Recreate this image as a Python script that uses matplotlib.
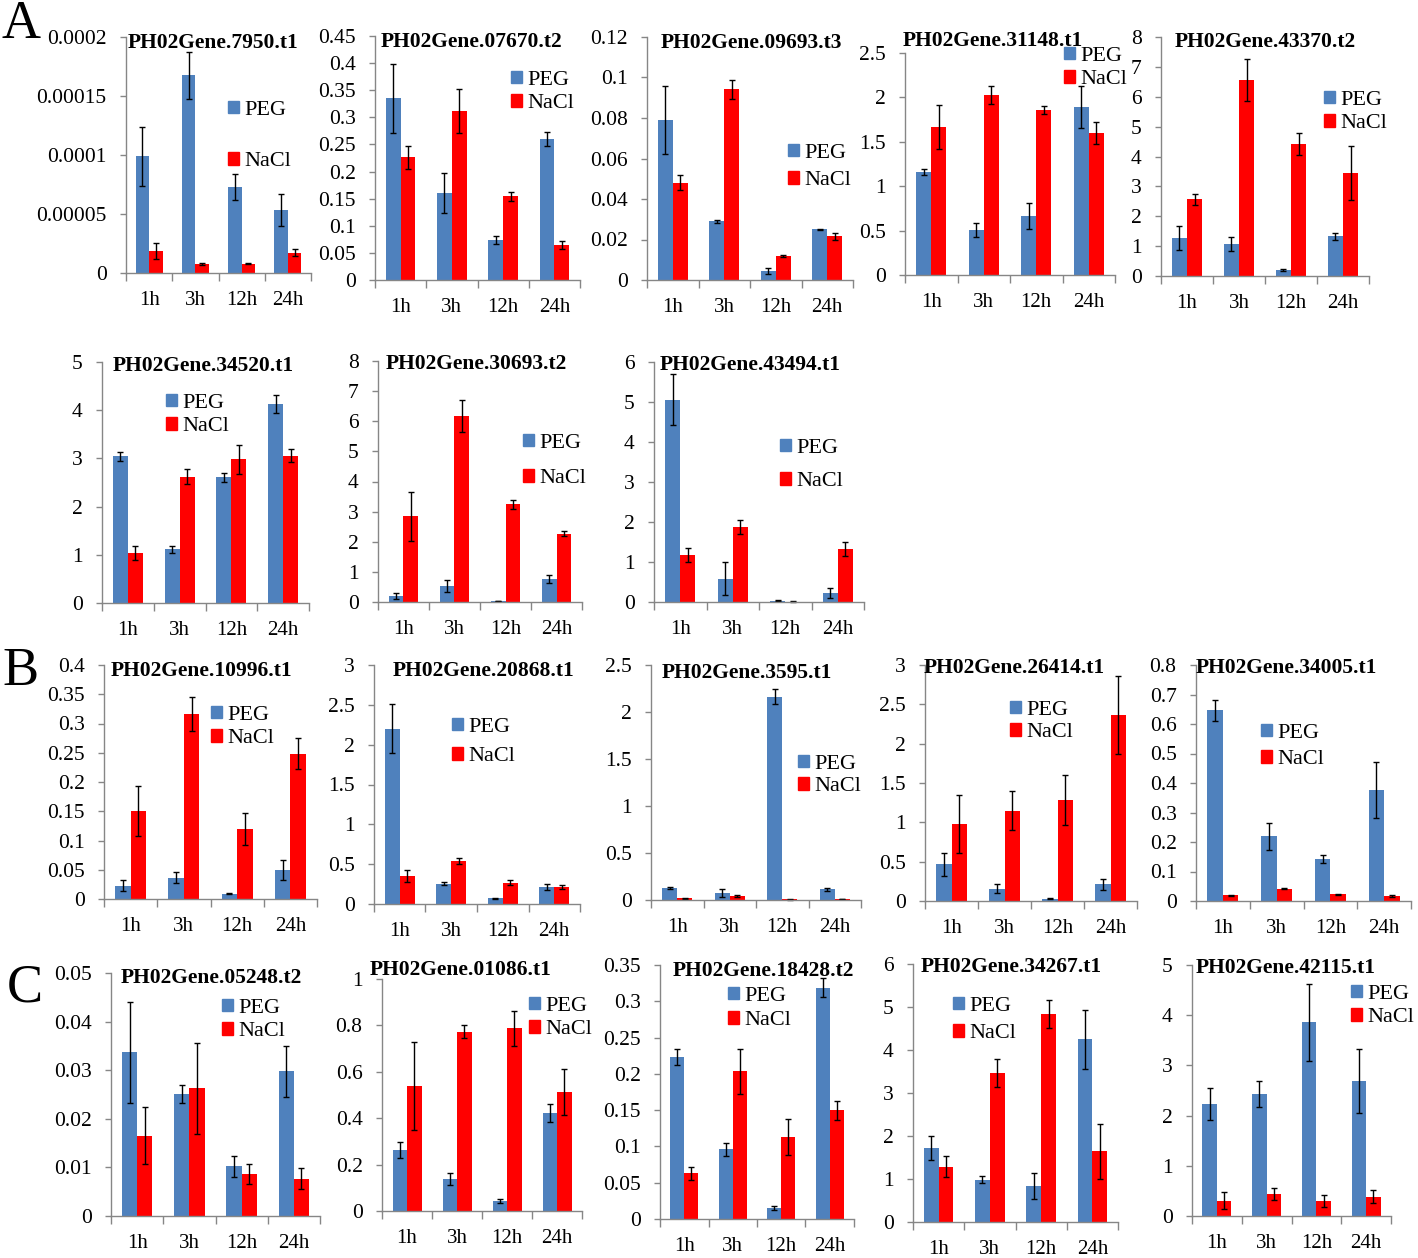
import numpy as np
import matplotlib
matplotlib.use('Agg')
import matplotlib.pyplot as plt
from matplotlib.patches import Patch
from matplotlib.ticker import FixedLocator, FuncFormatter

plt.rcParams['font.family'] = ['Liberation Serif', 'DejaVu Serif']

# ---------------- data ----------------
times = ['1h', '3h', '12h', '24h']

genes = ['PH02Gene.7950.t1', 'PH02Gene.07670.t2', 'PH02Gene.09693.t3', 'PH02Gene.31148.t1',
         'PH02Gene.43370.t2', 'PH02Gene.34520.t1', 'PH02Gene.30693.t2', 'PH02Gene.43494.t1',
         'PH02Gene.10996.t1', 'PH02Gene.20868.t1', 'PH02Gene.3595.t1', 'PH02Gene.26414.t1',
         'PH02Gene.34005.t1', 'PH02Gene.05248.t2', 'PH02Gene.01086.t1', 'PH02Gene.18428.t2',
         'PH02Gene.34267.t1', 'PH02Gene.42115.t1']

peg = [
    [9.9e-5, 1.676e-4, 7.3e-5, 5.35e-5],
    [0.335, 0.160, 0.074, 0.260],
    [0.0789, 0.0289, 0.0046, 0.0250],
    [1.16, 0.505, 0.663, 1.89],
    [1.27, 1.06, 0.20, 1.33],
    [3.04, 1.11, 2.61, 4.13],
    [0.21, 0.52, 0.03, 0.75],
    [5.06, 0.58, 0.035, 0.225],
    [0.0228, 0.0364, 0.0091, 0.049],
    [2.20, 0.255, 0.071, 0.213],
    [0.131, 0.0745, 2.16, 0.113],
    [0.466, 0.157, 0.030, 0.212],
    [0.647, 0.220, 0.142, 0.377],
    [0.03365, 0.02514, 0.01023, 0.02974],
    [0.263, 0.138, 0.0446, 0.423],
    [0.223, 0.0961, 0.0152, 0.3188],
    [1.72, 0.986, 0.838, 4.25],
    [2.23, 2.43, 3.86, 2.69],
]
peg_err = [
    [2.5e-5, 2.0e-5, 1.1e-5, 1.35e-5],
    [0.063, 0.037, 0.008, 0.013],
    [0.0168, 0.0008, 0.0015, 0.0004],
    [0.03, 0.075, 0.15, 0.24],
    [0.40, 0.23, 0.02, 0.11],
    [0.10, 0.07, 0.09, 0.19],
    [0.10, 0.20, 0.005, 0.13],
    [0.63, 0.41, 0.01, 0.12],
    [0.009, 0.009, 0.001, 0.017],
    [0.31, 0.015, 0.005, 0.04],
    [0.01, 0.038, 0.08, 0.015],
    [0.15, 0.06, 0.005, 0.07],
    [0.036, 0.046, 0.014, 0.094],
    [0.0104, 0.0018, 0.0022, 0.0052],
    [0.036, 0.026, 0.008, 0.040],
    [0.0107, 0.009, 0.003, 0.013],
    [0.28, 0.09, 0.30, 0.69],
    [0.31, 0.25, 0.77, 0.63],
]
nacl = [
    [1.86e-5, 7.6e-6, 7.9e-6, 1.72e-5],
    [0.226, 0.312, 0.154, 0.065],
    [0.0480, 0.0942, 0.0117, 0.0215],
    [1.67, 2.026, 1.86, 1.60],
    [2.57, 6.55, 4.42, 3.45],
    [1.04, 2.62, 2.98, 3.06],
    [2.84, 6.18, 3.24, 2.27],
    [1.18, 1.875, 0.01, 1.33],
    [0.151, 0.317, 0.1195, 0.2487],
    [0.351, 0.539, 0.267, 0.213],
    [0.018, 0.043, 0.008, 0.010],
    [0.979, 1.148, 1.28, 2.364],
    [0.019, 0.042, 0.0226, 0.017],
    [0.01655, 0.02624, 0.00859, 0.0077],
    [0.538, 0.773, 0.788, 0.512],
    [0.063, 0.2033, 0.1132, 0.150],
    [1.29, 3.47, 4.84, 1.64],
    [0.30, 0.44, 0.30, 0.386],
]
nacl_err = [
    [0.7e-5, 0.5e-6, 0.5e-6, 0.3e-5],
    [0.021, 0.040, 0.008, 0.007],
    [0.0038, 0.0048, 0.0004, 0.0015],
    [0.25, 0.105, 0.045, 0.125],
    [0.19, 0.70, 0.36, 0.90],
    [0.14, 0.15, 0.30, 0.14],
    [0.82, 0.53, 0.16, 0.09],
    [0.18, 0.18, 0.005, 0.18],
    [0.043, 0.029, 0.027, 0.026],
    [0.075, 0.038, 0.030, 0.030],
    [0.005, 0.015, 0.003, 0.004],
    [0.37, 0.25, 0.32, 0.49],
    [0.002, 0.003, 0.002, 0.002],
    [0.0058, 0.0094, 0.0021, 0.0021],
    [0.19, 0.029, 0.075, 0.098],
    [0.0092, 0.031, 0.025, 0.013],
    [0.24, 0.33, 0.33, 0.64],
    [0.17, 0.12, 0.12, 0.13],
]
ymax = [0.0002, 0.45, 0.12, 2.5, 8, 5, 8, 6, 0.4, 3, 2.5, 3, 0.8, 0.05, 1, 0.35, 6, 5]
ystep = [0.00005, 0.05, 0.02, 0.5, 1, 1, 1, 1, 0.05, 0.5, 0.5, 0.5, 0.1, 0.01, 0.2, 0.05, 1, 1]

# ---------------- layout (pixels) ----------------
W, H = 1418, 1258
# left, right, top (ymax), bottom (0)
boxes = [
    (126, 311, 37, 273), (375, 580, 36, 280), (647, 853, 37, 280), (905, 1115, 53, 275),
    (1161, 1369, 37, 276),
    (102, 309, 362, 603), (378, 582, 361, 602), (654, 864, 362, 602),
    (104, 317, 665, 899), (374, 580, 665, 904), (651, 861, 665, 900), (925, 1137, 665, 901),
    (1196, 1411, 665, 901),
    (111, 320, 973, 1216), (382, 582, 979, 1211), (660, 854, 965, 1219), (913, 1118, 964, 1222),
    (1192, 1391, 965, 1216),
]
title_pos = [
    (128, 48), (381, 47), (661, 48), (903, 46), (1175, 47),
    (113, 371), (386, 369), (660, 370),
    (111, 676), (393, 676), (662, 678), (924, 673), (1196, 673),
    (121, 983), (370, 975), (673, 976), (921, 972), (1196, 973),
]
legend_pos = [
    (228, 110, 162), (511, 80, 104), (788, 153, 181), (1064, 56, 80), (1324, 100, 124),
    (166, 403, 427), (523, 443, 479), (780, 448, 482),
    (211, 715, 739), (452, 727, 757), (798, 764, 787), (1010, 710, 733), (1261, 733, 760),
    (222, 1008, 1032), (529, 1006, 1030), (728, 996, 1021), (953, 1006, 1034), (1351, 994, 1018),
]
letters = [('A', 1, 38), ('B', 2, 685), ('C', 7, 1002)]

BLUE = '#4F81BD'
RED = '#FF0000'
GRAY = '#868686'
LEG_FS = 16
fs_px = LEG_FS * 100 / 72
row_h = 19.5


def fmt(v, pos=None):
    s = f"{v:.5f}".rstrip('0').rstrip('.')
    return s if s else '0'


fig = plt.figure(figsize=(W / 100, H / 100), dpi=100)

for i in range(len(genes)):
    l, r, t, b = boxes[i]
    ax = fig.add_axes([l / W, 1 - b / H, (r - l) / W, (b - t) / H])
    x = np.arange(len(times))
    w = 0.29
    ekw = dict(ecolor='black', elinewidth=1, capsize=2, capthick=1)
    ax.bar(x - w / 2, peg[i], w, yerr=peg_err[i], color=BLUE, error_kw=ekw, zorder=2)
    ax.bar(x + w / 2, nacl[i], w, yerr=nacl_err[i], color=RED, error_kw=ekw, zorder=2)
    ax.set_xlim(-0.5, len(times) - 0.5)
    ax.set_ylim(0, ymax[i])
    for s in ['top', 'right']:
        ax.spines[s].set_visible(False)
    for s in ['left', 'bottom']:
        ax.spines[s].set_color(GRAY)
        ax.spines[s].set_linewidth(1.0)
    yt = np.arange(0, ymax[i] + ystep[i] / 2, ystep[i])
    ax.yaxis.set_major_locator(FixedLocator(yt))
    ax.yaxis.set_major_formatter(FuncFormatter(fmt))
    ax.set_xticks(x)
    ax.set_xticklabels(times)
    ax.xaxis.set_minor_locator(FixedLocator(np.arange(-0.5, len(times), 1.0)))
    ax.tick_params(axis='y', direction='out', length=4, width=1, color=GRAY,
                   labelsize=15.5, pad=10)
    ax.tick_params(axis='x', which='major', length=0, labelsize=15, pad=13)
    ax.tick_params(axis='x', which='minor', direction='out', length=6, width=1, color=GRAY)
    for c in ax.get_children():
        try:
            c.set_clip_on(False)
        except Exception:
            pass

    tx, ty = title_pos[i]
    fig.text(tx / W, 1 - ty / H, genes[i], fontsize=15.5, fontweight='bold',
             ha='left', va='baseline')

    lx, y1, y2 = legend_pos[i]
    d = y2 - y1
    ls = max(0.0, (d - row_h) / fs_px)
    handles = [Patch(color=BLUE), Patch(color=RED)]
    ax.legend(handles, ['PEG', 'NaCl'], loc='center left',
              bbox_to_anchor=(lx / W, 1 - (y1 + y2) / 2 / H), bbox_transform=fig.transFigure,
              frameon=False, fontsize=LEG_FS, handlelength=0.5, handleheight=0.5,
              handletextpad=0.25, borderpad=0, borderaxespad=0, labelspacing=ls)

for ch, lx, ly in letters:
    fig.text(lx / W, 1 - ly / H, ch, fontsize=39, ha='left', va='baseline')

fig.savefig('out.png', dpi=100)
